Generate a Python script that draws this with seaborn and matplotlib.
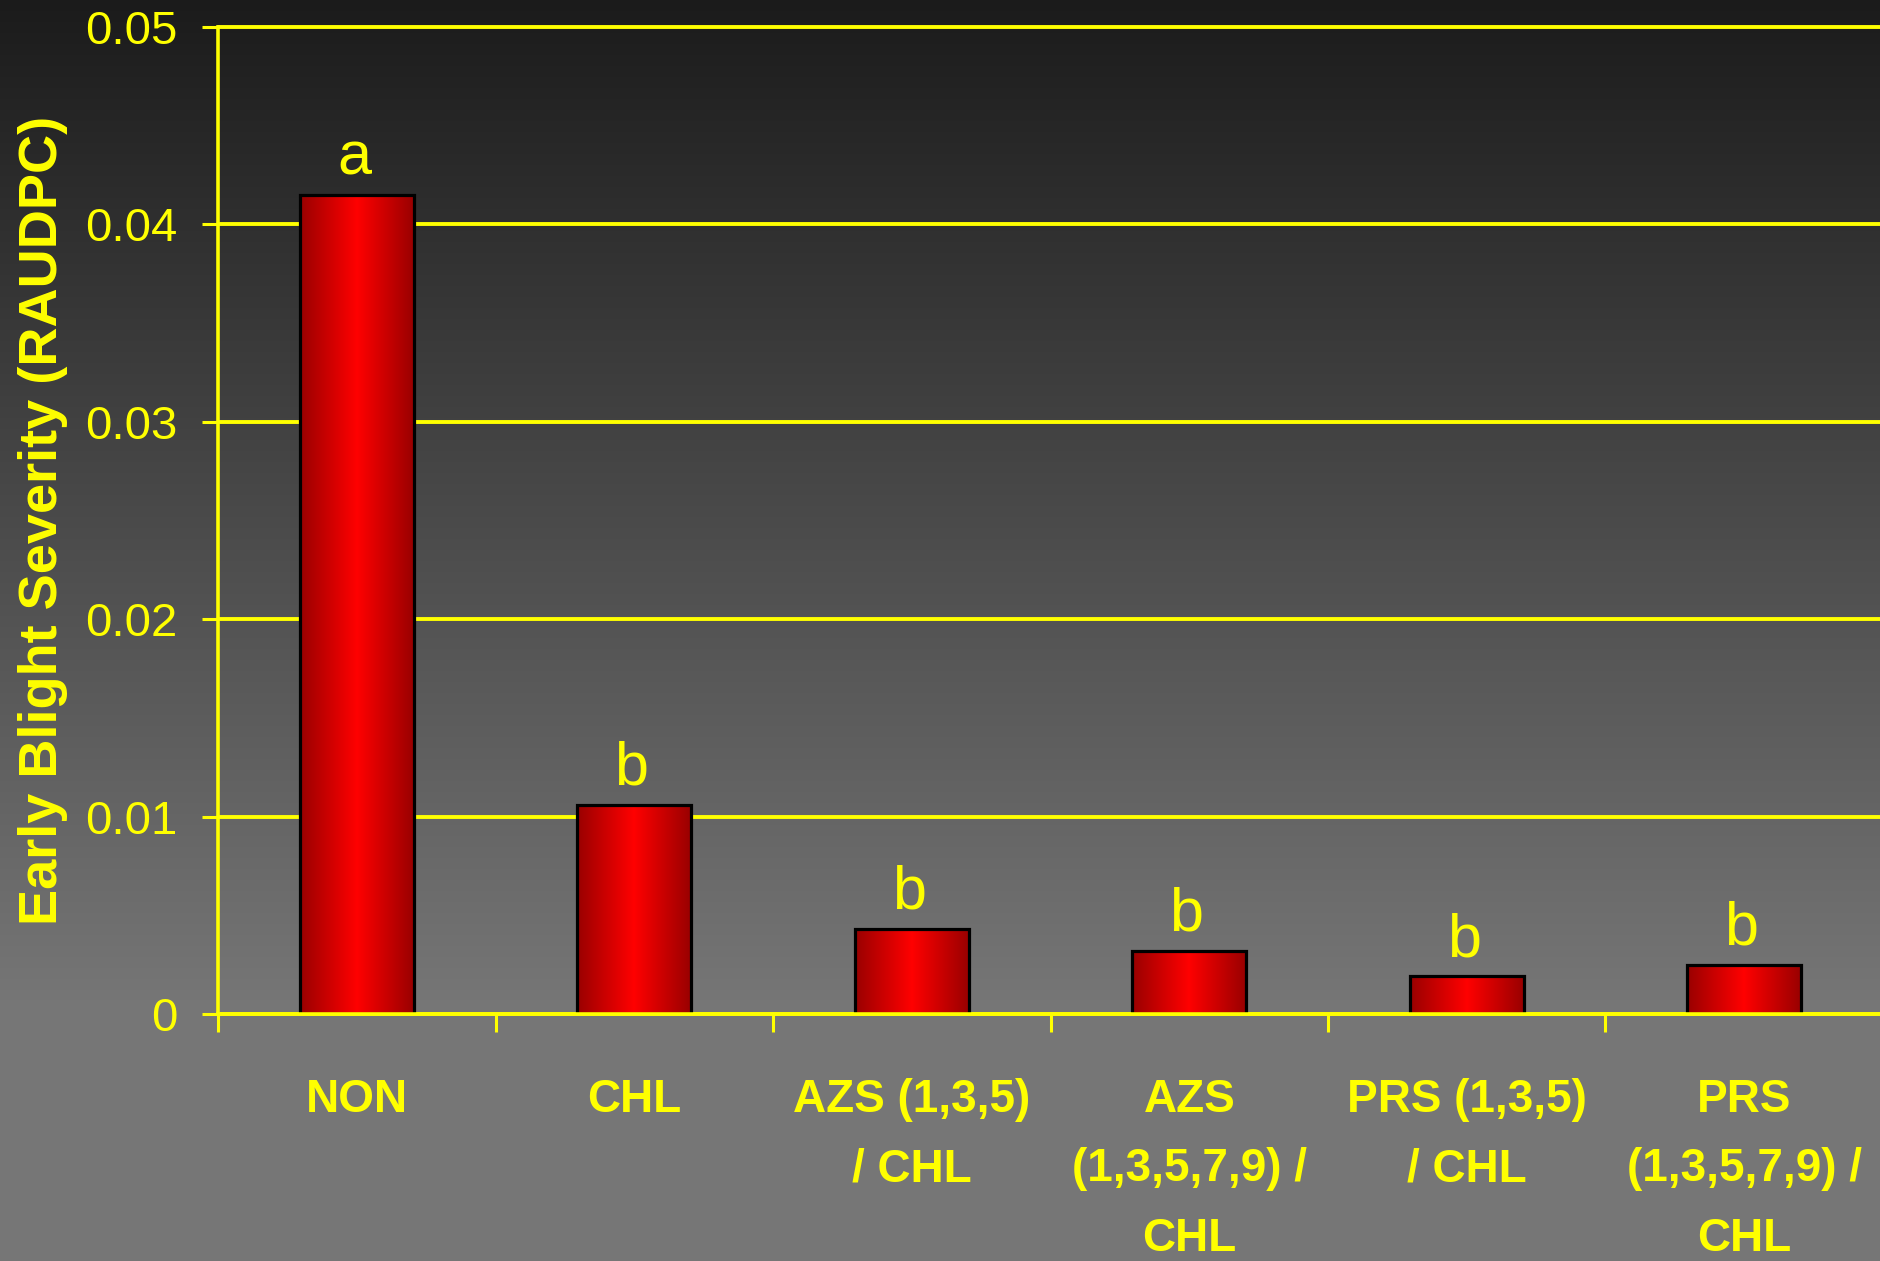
import numpy as np
import matplotlib
matplotlib.use("Agg")
import matplotlib.pyplot as plt
from matplotlib.colors import LinearSegmentedColormap
import seaborn as sns

# Early blight severity by fungicide program
categories = [
    "NON",
    "CHL",
    "AZS (1,3,5)\n/ CHL",
    "AZS\n(1,3,5,7,9) /\nCHL",
    "PRS (1,3,5)\n/ CHL",
    "PRS\n(1,3,5,7,9) /\nCHL",
]
raudpc = [0.0415, 0.0106, 0.0043, 0.0032, 0.0019, 0.0025]
letters = ["a", "b", "b", "b", "b", "b"]
yticks = [0, 0.01, 0.02, 0.03, 0.04, 0.05]
ytick_labels = ["0", "0.01", "0.02", "0.03", "0.04", "0.05"]

YELLOW = "#ffff00"

sns.set_theme(style="white")
plt.rcParams["font.family"] = ["Liberation Sans", "DejaVu Sans"]

W, H = 1880, 1261
fig = plt.figure(figsize=(W / 100, H / 100), dpi=100)

# Slide background: vertical dark-to-grey gradient
bg = fig.add_axes([0, 0, 1, 1], zorder=-10)
rows = np.arange(H)
shade = 0x1b + (0x76 - 0x1b) * np.clip(rows / 1000.0, 0, 1)
grad = np.repeat((shade / 255.0)[:, None], 4, axis=1)
bg_img = np.dstack([grad, grad, grad])
bg.imshow(bg_img, aspect="auto", extent=(0, 1, 0, 1), origin="upper")
bg.set_axis_off()

left, bottom = 218 / W, (H - 1014) / H
ax = fig.add_axes([left, bottom, 1665 / W, 987 / H])
ax.set_facecolor("none")

sns.barplot(x=categories, y=raudpc, ax=ax, width=0.41, color="red",
            edgecolor="black", linewidth=2.3, zorder=3)

# Horizontal red gradient inside each bar
bar_cmap = LinearSegmentedColormap.from_list(
    "bar", ["#990000", "#ff0000", "#990000"])
strip = np.linspace(0, 1, 256)[None, :]
for patch in ax.patches:
    x0, y0 = patch.get_x(), patch.get_y()
    w, h = patch.get_width(), patch.get_height()
    im = ax.imshow(strip, cmap=bar_cmap, aspect="auto",
                   extent=(x0, x0 + w, y0, y0 + h), zorder=2.5,
                   interpolation="bilinear")
    im.set_clip_path(patch)
    patch.set_facecolor("none")

ax.set_xlim(-0.5, len(categories) - 0.5)
ax.set_ylim(0, 0.05)

# Significance letters above bars
for i, (v, lt) in enumerate(zip(raudpc, letters)):
    ax.annotate(lt, xy=(i, v), xytext=(-2, 14.5), textcoords="offset points",
                ha="center", va="baseline", fontsize=44, color=YELLOW,
                zorder=4)

# Gridlines and spines
ax.yaxis.grid(True, color=YELLOW, linewidth=2.8, zorder=1)
ax.set_axisbelow(True)
for gl in ax.get_ygridlines():
    gl.set_clip_on(False)
for side in ("top", "right"):
    ax.spines[side].set_visible(False)
for side in ("left", "bottom"):
    ax.spines[side].set_color(YELLOW)
    ax.spines[side].set_linewidth(2.6)
    ax.spines[side].set_zorder(5)

ax.set_yticks(yticks)
ax.set_yticklabels(ytick_labels)
ax.tick_params(axis="y", left=True, length=11.5, width=2.2, color=YELLOW,
               labelsize=34, labelcolor=YELLOW, pad=18)

ax.set_xticks(range(len(categories)))
ax.set_xticklabels(categories, fontsize=33, fontweight="bold",
                   color=YELLOW, linespacing=1.75)
ax.set_xticks(np.arange(-0.5, len(categories)), minor=True)
ax.tick_params(axis="x", which="major", length=0, pad=46)
ax.tick_params(axis="x", which="minor", bottom=True, length=13, width=2.2,
               color=YELLOW)

for gl in ax.get_ygridlines():
    gl.set_clip_on(False)

ax.set_xlabel("")
ax.set_ylabel("Early Blight Severity (RAUDPC)", fontsize=39,
              fontweight="bold", color=YELLOW, va="center")
ax.yaxis.set_label_coords((43 - 218) / 1665, 0.5)

fig.savefig("out.png", dpi=100)
